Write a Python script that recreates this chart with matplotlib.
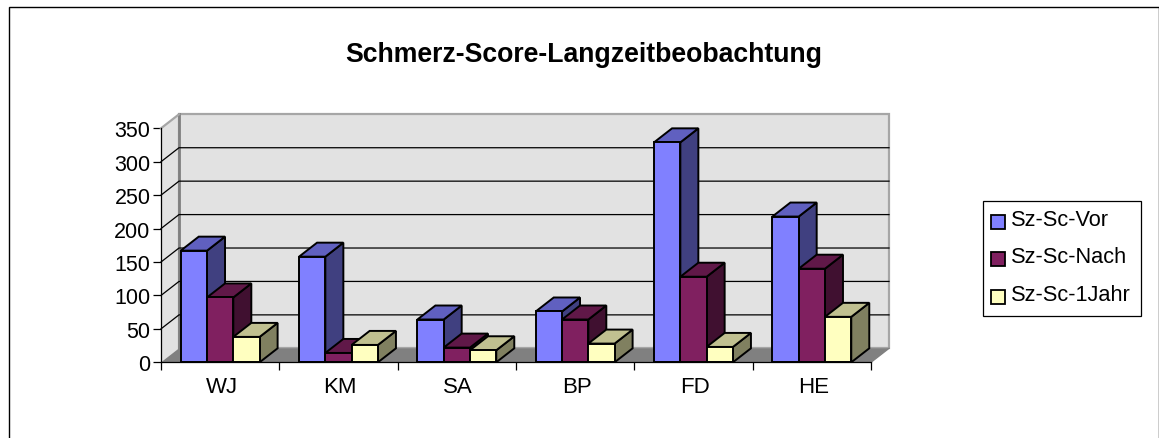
import matplotlib
matplotlib.use('Agg')
import matplotlib.pyplot as plt
from matplotlib.patches import Polygon, Rectangle

plt.rcParams['font.family'] = ['Liberation Sans', 'DejaVu Sans']

W, H = 1159, 439
categories = ['WJ', 'KM', 'SA', 'BP', 'FD', 'HE']
sz_vor = [167, 158, 64, 76, 329, 218]
sz_nach = [97, 14, 22, 64, 128, 140]
sz_1jahr = [38, 26, 18, 28, 23, 68]
series_names = ['Sz-Sc-Vor', 'Sz-Sc-Nach', 'Sz-Sc-1Jahr']
y_ticks = [0, 50, 100, 150, 200, 250, 300, 350]

# front, top, side shades
colors = [('#8080ff', '#6060c0', '#404080'),
          ('#802060', '#601848', '#401030'),
          ('#ffffc0', '#c0c090', '#808060')]

fig = plt.figure(figsize=(W / 100, H / 100), dpi=100, facecolor='white')

# outer frame of the chart, its bottom edge is cut off by the image
fig.add_artist(Rectangle((8.5 / W, -10 / H), 1150 / W, (H - 7.5 + 10) / H, transform=fig.transFigure,
                         fc='white', ec='black', lw=1.0, zorder=-1))

# axes = front plane of the fake 3d box
x0, x1, y0, y1 = 161, 871, 363.3, 129.3
ax = fig.add_axes([x0 / W, 1 - y0 / H, (x1 - x0) / W, (y0 - y1) / H])
ax.set_xlim(0, len(categories))
ax.set_ylim(0, 350)
ax.patch.set_visible(False)

# depth of the box in data units
dx = 18 / ((x1 - x0) / len(categories))
dy = 14 / ((y0 - y1) / 350)

n = len(categories)
ax.add_patch(Polygon([(0, 0), (dx, dy), (dx, 350 + dy), (0, 350)], fc='#e2e2e2', ec='none', clip_on=False, zorder=1))
ax.add_patch(Rectangle((dx, dy), n, 350, fc='#e2e2e2', ec='#a6a6a6', lw=1.6, clip_on=False, zorder=1))
ax.add_patch(Polygon([(0, 0), (n, 0), (n + dx, dy), (dx, dy)], fc='#808080', ec='none', clip_on=False, zorder=1.5))
ax.plot([dx, dx], [dy, 350 + dy], color='#808080', lw=2, clip_on=False, zorder=1.6)
ax.plot([0, dx], [350, 350 + dy], color='#a6a6a6', lw=1.6, clip_on=False, zorder=1.6)
ax.plot([n, n + dx], [0, dy], color='#808080', lw=1, clip_on=False, zorder=1.6)

# gridlines run on the back wall and along the left side wall
for v in y_ticks[1:-1]:
    ax.plot([0, dx, n + dx], [v, v + dy, v + dy], color='black', lw=0.9, clip_on=False, zorder=2)


def bar3d(left, width, h, cols, z):
    ax.add_patch(Polygon([(left + width, 0), (left + width + dx, dy), (left + width + dx, h + dy), (left + width, h)],
                         fc=cols[2], ec='black', lw=1.4, joinstyle='miter', clip_on=False, zorder=z))
    ax.add_patch(Polygon([(left, h), (left + dx, h + dy), (left + width + dx, h + dy), (left + width, h)],
                         fc=cols[1], ec='black', lw=1.4, joinstyle='miter', clip_on=False, zorder=z))
    ax.add_patch(Rectangle((left, 0), width, h, fc=cols[0], ec='black', lw=1.4, clip_on=False, zorder=z))


bw = 1 / 4.5
for i in range(n):
    for j, vals in enumerate([sz_vor, sz_nach, sz_1jahr]):
        bar3d(i + 0.75 * bw + j * bw, bw, vals[i], colors[j], 3 + j + i * 0.01)

for s in ['top', 'right']:
    ax.spines[s].set_visible(False)
for s in ['left', 'bottom']:
    ax.spines[s].set_linewidth(0.9)
    ax.spines[s].set_zorder(10)

ax.set_yticks(y_ticks)
ax.set_xticks(range(n + 1))
ax.set_xticklabels([])
ax.set_xticks([i + 0.512 for i in range(n)], minor=True)
ax.set_xticklabels(categories, minor=True)
ax.tick_params(axis='x', which='minor', length=0, labelsize=16, pad=10)
ax.tick_params(axis='x', which='major', length=6, width=0.9, direction='out')
ax.tick_params(axis='y', length=6, width=0.9, labelsize=15.5, pad=1.5)

fig.text(583.5 / W, 1 - 55.5 / H, 'Schmerz-Score-Langzeitbeobachtung', ha='center', va='center',
         fontsize=19.2, fontweight='bold')

# legend box drawn by hand to match the swatch layout
fig.add_artist(Rectangle((982.7 / W, 1 - 317 / H), 158.3 / W, 115.3 / H, transform=fig.transFigure,
                         fc='white', ec='black', lw=0.9))
for k, name in enumerate(series_names):
    yc = 222.7 + k * 37.7
    fig.add_artist(Rectangle((990.5 / W, 1 - (yc + 7) / H), 14 / W, 14 / H, transform=fig.transFigure,
                             fc=colors[k][0], ec='black', lw=1.3))
    fig.text(1011 / W, 1 - (yc - 2.5) / H, name, ha='left', va='center', fontsize=15.7)

fig.savefig('out.png', dpi=100)
